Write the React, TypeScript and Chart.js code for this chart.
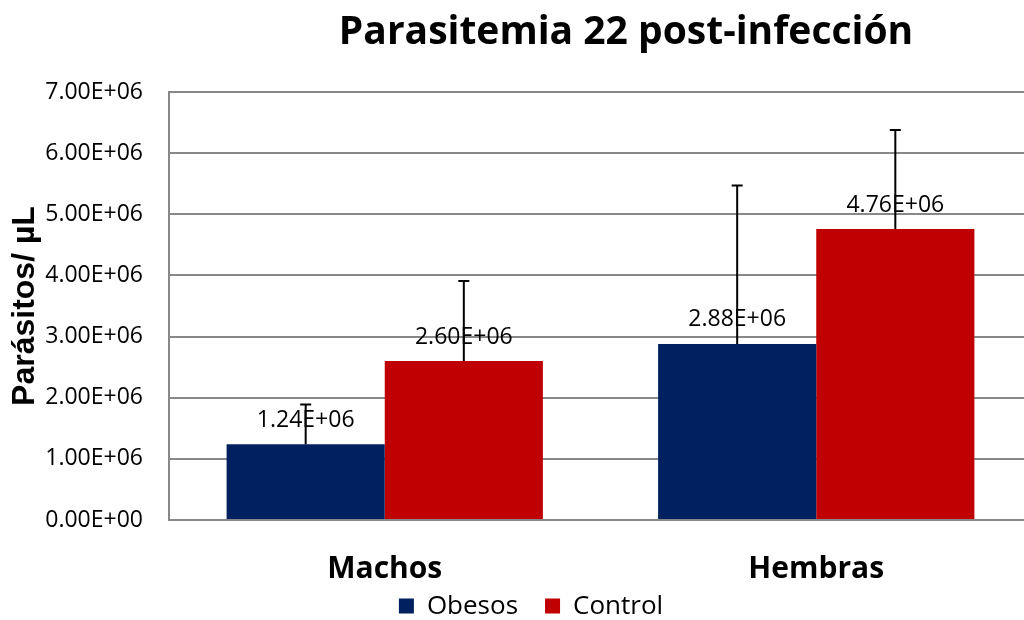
import React, { useEffect, useRef } from "react";
import { Chart, registerables } from "chart.js";

Chart.register(...registerables);

const categories = ["Machos", "Hembras"];
const seriesNames = ["Obesos", "Control"];
const obesosValues = [1.24e6, 2.88e6];
const controlValues = [2.6e6, 4.76e6];
const obesosErrors = [0.65e6, 2.59e6];
const controlErrors = [1.31e6, 1.62e6];
const seriesColors = ["#002060", "#C00000"];
const titleText = "Parasitemia 22 post-infección";
const yAxisTitle = "Parásitos/ µL";
const yMin = 0;
const yMax = 7e6;
const yStep = 1e6;

function sci(v: number): string {
  if (v === 0) return "0.00E+00";
  const e = Math.floor(Math.log10(Math.abs(v)));
  const m = v / Math.pow(10, e);
  return m.toFixed(2) + "E" + (e >= 0 ? "+" : "-") + String(Math.abs(e)).padStart(2, "0");
}

const errorsByDataset = [obesosErrors, controlErrors];

const overlayPlugin = {
  id: "overlay",
  afterDatasetsDraw(chart: any) {
    const ctx = chart.ctx;
    const yScale = chart.scales.y;
    chart.data.datasets.forEach((ds: any, i: number) => {
      const meta = chart.getDatasetMeta(i);
      meta.data.forEach((bar: any, j: number) => {
        ctx.save();
        ctx.font = '23px "Open Sans"';
        ctx.fillStyle = "#000";
        ctx.textAlign = "center";
        ctx.textBaseline = "middle";
        ctx.fillText(sci(ds.data[j]), bar.x, bar.y - 24);
        ctx.restore();
      });
    });
    chart.data.datasets.forEach((ds: any, i: number) => {
      const meta = chart.getDatasetMeta(i);
      meta.data.forEach((bar: any, j: number) => {
        const err = errorsByDataset[i][j];
        const topPx = yScale.getPixelForValue(ds.data[j] + err);
        ctx.save();
        ctx.strokeStyle = "#000";
        ctx.lineWidth = 2;
        ctx.beginPath();
        ctx.moveTo(bar.x, bar.y);
        ctx.lineTo(bar.x, topPx);
        ctx.moveTo(bar.x - 5.5, topPx);
        ctx.lineTo(bar.x + 5.5, topPx);
        ctx.stroke();
        ctx.restore();
      });
    });
  },
  afterDraw(chart: any) {
    const ctx = chart.ctx;
    ctx.save();
    ctx.font = 'bold 39px "Open Sans"';
    ctx.fillStyle = "#000";
    ctx.textAlign = "center";
    ctx.textBaseline = "alphabetic";
    ctx.fillText(titleText, 626, 44);
    ctx.restore();
    ctx.save();
    ctx.font = '26px "Open Sans"';
    ctx.textBaseline = "middle";
    ctx.textAlign = "left";
    const box = 15;
    const gapBoxText = 13;
    const gapItems = 27;
    const widths = seriesNames.map((n) => ctx.measureText(n).width);
    const total =
      widths.reduce((a: number, w: number) => a + box + gapBoxText + w, 0) + gapItems * (seriesNames.length - 1);
    let x = 531 - total / 2;
    const cy = 606;
    seriesNames.forEach((n, i) => {
      ctx.fillStyle = seriesColors[i];
      ctx.fillRect(x, cy - box / 2, box, box);
      x += box + gapBoxText;
      ctx.fillStyle = "#000";
      ctx.fillText(n, x, cy + 1);
      x += widths[i] + gapItems;
    });
    ctx.restore();
  },
};

export default function App() {
  const canvasRef = useRef<HTMLCanvasElement | null>(null);

  useEffect(() => {
    document.body.style.overflow = "hidden";
    document.documentElement.style.overflow = "hidden";
    const canvas = canvasRef.current;
    if (!canvas) return;
    const chart = new Chart(canvas, {
      type: "bar",
      data: {
        labels: categories,
        datasets: [
          {
            label: seriesNames[0],
            data: obesosValues,
            backgroundColor: seriesColors[0],
            categoryPercentage: 0.733,
            barPercentage: 1.0,
          },
          {
            label: seriesNames[1],
            data: controlValues,
            backgroundColor: seriesColors[1],
            categoryPercentage: 0.733,
            barPercentage: 1.0,
          },
        ],
      },
      options: {
        responsive: false,
        animation: false,
        layout: { padding: { top: 92, left: 0, right: 8, bottom: 0 } },
        plugins: {
          legend: { display: false },
          title: { display: false },
          tooltip: { enabled: false },
        },
        scales: {
          x: {
            grid: { display: false, drawTicks: false },
            border: { display: true, color: "#888888", width: 2 },
            ticks: {
              color: "#000",
              font: { family: '"Open Sans"', size: 30, weight: "bold" },
              padding: 31,
            },
            afterFit: (scale: any) => {
              scale.height = 100;
            },
          },
          y: {
            min: yMin,
            max: yMax,
            grid: { color: "#888888", lineWidth: 2, drawTicks: false },
            border: { display: true, color: "#888888", width: 2 },
            ticks: {
              stepSize: yStep,
              color: "#000",
              font: { family: '"Open Sans"', size: 23 },
              padding: 26,
              callback: (v: any) => sci(Number(v)),
            },
            title: {
              display: true,
              text: yAxisTitle,
              color: "#000",
              font: { family: '"Liberation Sans"', size: 32, weight: "bold" },
              padding: { top: 6, bottom: 0 },
            },
            afterFit: (scale: any) => {
              scale.width = 169;
            },
          },
        },
      },
      plugins: [overlayPlugin],
    });
    return () => chart.destroy();
  }, []);

  return (
    <div style={{ position: "absolute", left: 0, top: 0, width: 1040, height: 620, background: "#fff" }}>
      <canvas ref={canvasRef} width={1040} height={620} style={{ width: 1040, height: 620, display: "block" }} />
    </div>
  );
}
